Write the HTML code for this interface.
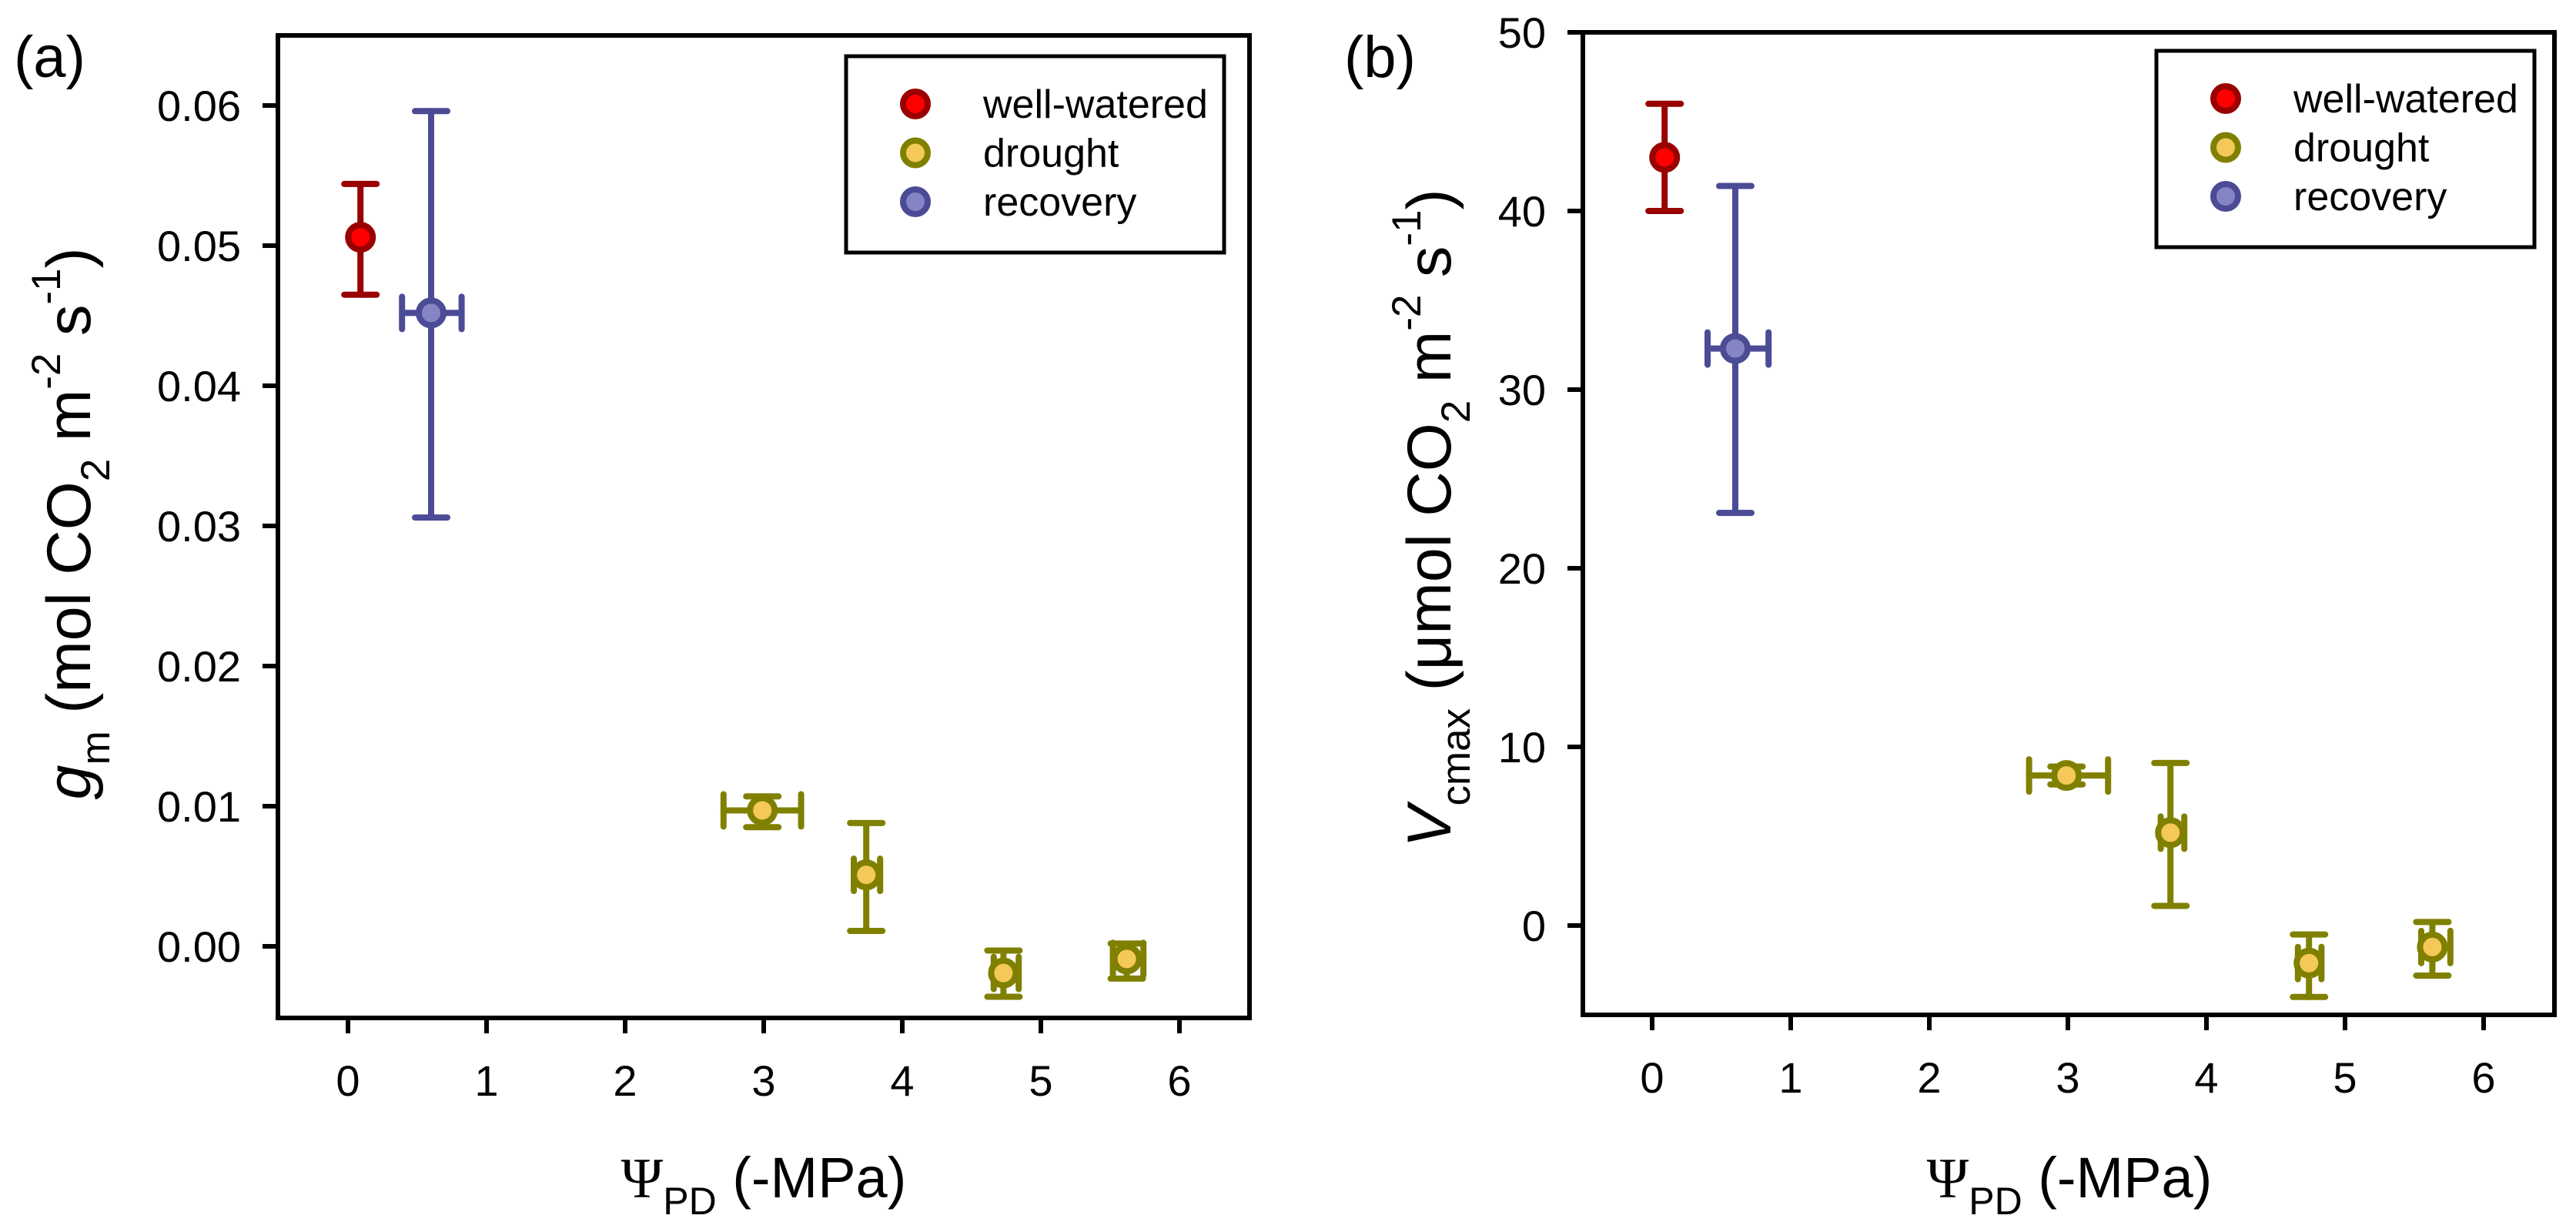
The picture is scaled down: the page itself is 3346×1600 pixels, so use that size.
<!DOCTYPE html>
<html><head><meta charset="utf-8"><style>
html,body{margin:0;padding:0;background:#fff;}
svg{display:block;font-family:"Liberation Sans",Arial,sans-serif;}
</style></head><body>
<svg id="root" width="3346" height="1600" viewBox="0 0 3346 1600" xmlns="http://www.w3.org/2000/svg"></svg>
<script>
// Panel A data (gm)
const groupsA = ["well-watered","recovery","drought","drought","drought","drought"];
const xA = [0.09,0.6,2.99,3.74,4.73,5.62];
const xLoA = [0.09,0.39,2.71,3.65,4.66,5.52];
const xHiA = [0.09,0.82,3.27,3.84,4.84,5.74];
const yA = [0.0506,0.0452,0.0097,0.0051,-0.0019,-0.0009];
const yLoA = [0.0465,0.0306,0.0085,0.0011,-0.0036,-0.0023];
const yHiA = [0.0544,0.0596,0.0107,0.0088,-0.0003,0.0002];
const yTicksA = [0,0.01,0.02,0.03,0.04,0.05,0.06];
const yTickLabelsA = ["0.00","0.01","0.02","0.03","0.04","0.05","0.06"];
// Panel B data (Vcmax)
const groupsB = ["well-watered","recovery","drought","drought","drought","drought"];
const xB = [0.09,0.6,2.99,3.74,4.74,5.63];
const xLoB = [0.09,0.4,2.72,3.67,4.66,5.55];
const xHiB = [0.09,0.84,3.29,3.84,4.83,5.76];
const yB = [43.0,32.3,8.4,5.2,-2.1,-1.2];
const yLoB = [40.0,23.1,7.9,1.1,-4.0,-2.8];
const yHiB = [46.0,41.4,8.9,9.1,-0.5,0.2];
const yTicksB = [0,10,20,30,40,50];
const yTickLabelsB = ["0","10","20","30","40","50"];
const xTicks = [0,1,2,3,4,5,6];
const xTickLabels = ["0","1","2","3","4","5","6"];
const legendLabels = ["well-watered","drought","recovery"];

const styles = {
  "well-watered":{fill:"#ff0000",stroke:"#990000"},
  "drought":{fill:"#f5c85a",stroke:"#808000"},
  "recovery":{fill:"#8585c6",stroke:"#4b4b96"}
};
const NS="http://www.w3.org/2000/svg";
const root=document.getElementById('root');
function mk(tag,attrs,parent){const e=document.createElementNS(NS,tag);for(const k in attrs)e.setAttribute(k,attrs[k]);(parent||root).appendChild(e);return e;}

function panel(cfg){
  const g=mk('g',{});
  
  
  const L=cfg.L,R=cfg.R,T=cfg.T,B=cfg.B;
  const sx=v=>cfg.x0+v*180;
  const sy=v=>cfg.y0-v*cfg.ypu;
  const frame=mk('rect',{x:L,y:T,width:R-L,height:B-T,fill:'none',stroke:'#000','stroke-width':6},g);
  
  
  xTicks.forEach((t,i)=>{
    const x=sx(t);
    const tk=mk('line',{x1:x,y1:B,x2:x,y2:B+20,stroke:'#000','stroke-width':6},g);
    
    
    const tl=mk('text',{x:x,y:B+101,'font-size':56,'text-anchor':'middle'},g);
    tl.textContent=xTickLabels[i];
    
    
  });
  cfg.yTicks.forEach((t,i)=>{
    const y=sy(t);
    const tk=mk('line',{x1:L-20,y1:y,x2:L,y2:y,stroke:'#000','stroke-width':6},g);
    
    
    const tl=mk('text',{x:L-48,y:y+20,'font-size':56,'text-anchor':'end'},g);
    tl.textContent=cfg.yLabels[i];
    
    
  });
  // x title
  const xt=mk('text',{x:cfg.xTitleX,y:1555,'font-size':74,'text-anchor':'middle'},g);
  xt.innerHTML='<tspan font-family="Liberation Serif,serif">Ψ</tspan><tspan font-size="50" dy="22">PD</tspan><tspan dy="-22"> (-MPa)</tspan>';
  
  
  // y title
  const yt=mk('text',{x:0,y:0,'font-size':81,'text-anchor':'middle',transform:`translate(${cfg.yTitleX},${cfg.yTitleY}) rotate(-90)`},g);
  yt.innerHTML=cfg.yTitle;
  
  
  // panel label
  const pl=mk('text',{x:cfg.labX,y:100,'font-size':76},g);
  pl.textContent=cfg.lab;
  
  
  // points
  cfg.xs.forEach((xv,i)=>{
    const st=styles[cfg.groups[i]];
    const pg=mk('g',{},g);
    
    
    const cx=sx(xv),cy=sy(cfg.ys[i]);
    const yl=sy(cfg.yLo[i]),yh=sy(cfg.yHi[i]);
    const xl=sx(cfg.xLo[i]),xh=sx(cfg.xHi[i]);
    const a={stroke:st.stroke,'stroke-width':8,'stroke-linecap':'round'};
    mk('line',Object.assign({x1:cx,y1:yl,x2:cx,y2:yh},a),pg);
    mk('line',Object.assign({x1:cx-21,y1:yl,x2:cx+21,y2:yl},a),pg);
    mk('line',Object.assign({x1:cx-21,y1:yh,x2:cx+21,y2:yh},a),pg);
    if(xh-xl>2){
      mk('line',Object.assign({x1:xl,y1:cy,x2:xh,y2:cy},a),pg);
      mk('line',Object.assign({x1:xl,y1:cy-21,x2:xl,y2:cy+21},a),pg);
      mk('line',Object.assign({x1:xh,y1:cy-21,x2:xh,y2:cy+21},a),pg);
    }
    mk('circle',{cx:cx,cy:cy,r:16,fill:st.fill,stroke:st.stroke,'stroke-width':8},pg);
  });
  // legend
  const lg=mk('g',{},g);
  
  
  mk('rect',{x:cfg.legL,y:cfg.legT,width:491,height:255,fill:'#fff',stroke:'#000','stroke-width':5},lg);
  legendLabels.forEach((lab,i)=>{
    const st=styles[lab];
    const y=cfg.legT+62+i*63.5;
    const en=mk('g',{},lg);
    
    
    mk('circle',{cx:cfg.legL+90,cy:y,r:16,fill:st.fill,stroke:st.stroke,'stroke-width':8},en);
    const t=mk('text',{x:cfg.legL+178,y:y+18,'font-size':52},en);
    t.textContent=lab;
  });
}

const supA='<tspan font-size="53" dy="-39">';
panel({name:'panel-a-gm',L:361,R:1623,T:46,B:1322,x0:452,y0:1229,ypu:18200,
  yTicks:yTicksA,yLabels:yTickLabelsA,xs:xA,xLo:xLoA,xHi:xHiA,ys:yA,yLo:yLoA,yHi:yHiA,groups:groupsA,
  xTitleX:992,yTitleX:117,yTitleY:680,lab:'(a)',labX:18,legL:1099,legT:73,
  yTitle:'<tspan font-style="italic">g</tspan><tspan font-size="53" dy="25">m</tspan><tspan dy="-25"> (mol CO</tspan><tspan font-size="53" dy="25">2</tspan><tspan dy="-25"> m</tspan>'+supA+'-2</tspan><tspan dy="39"> s</tspan>'+supA+'-1</tspan><tspan dy="39">)</tspan>'});
panel({name:'panel-b-vcmax',L:2056,R:3318,T:42,B:1318,x0:2146,y0:1202,ypu:23.2,
  yTicks:yTicksB,yLabels:yTickLabelsB,xs:xB,xLo:xLoB,xHi:xHiB,ys:yB,yLo:yLoB,yHi:yHiB,groups:groupsB,
  xTitleX:2688,yTitleX:1884,yTitleY:673,lab:'(b)',labX:1746,legL:2801,legT:66,
  yTitle:'<tspan font-style="italic">V</tspan><tspan font-size="53" dy="25">cmax</tspan><tspan dy="-25"> (μmol CO</tspan><tspan font-size="53" dy="25">2</tspan><tspan dy="-25"> m</tspan>'+supA+'-2</tspan><tspan dy="39"> s</tspan>'+supA+'-1</tspan><tspan dy="39">)</tspan>'});
</script>
</body></html>
